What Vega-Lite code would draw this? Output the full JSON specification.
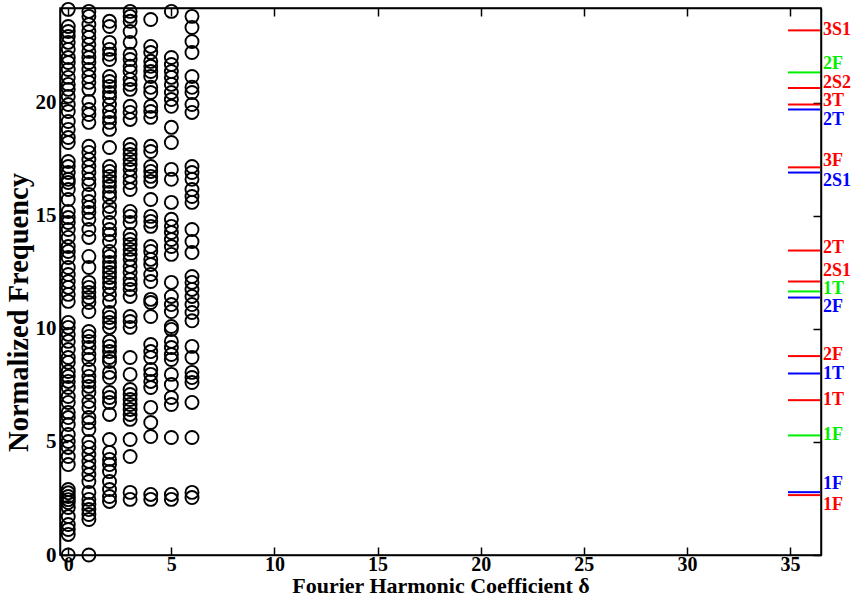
{
  "$schema": "https://vega.github.io/schema/vega-lite/v6.json",
  "autosize": "none",
  "width": 761,
  "height": 547,
  "padding": {"left": 60, "top": 8, "right": 37, "bottom": 47},
  "background": "white",
  "config": {
    "view": {"stroke": "black", "strokeWidth": 1.5},
    "axis": {
      "grid": false,
      "domainColor": "black",
      "domainWidth": 1.5,
      "tickColor": "black",
      "tickWidth": 1.5,
      "labelColor": "black",
      "titleColor": "black",
      "labelFont": "Liberation Serif",
      "titleFont": "Liberation Serif",
      "labelFontWeight": "bold",
      "titleFontWeight": "bold"
    }
  },
  "datasets": {
    "circles": [
      {"d":0,"f":24.14},{"d":0,"f":23.38},{"d":0,"f":23.16},{"d":0,"f":22.94},{"d":0,"f":22.68},{"d":0,"f":22.37},{"d":0,"f":22.01},{"d":0,"f":21.79},{"d":0,"f":21.48},{"d":0,"f":21.13},{"d":0,"f":20.82},{"d":0,"f":20.6},{"d":0,"f":20.29},{"d":0,"f":19.93},{"d":0,"f":19.62},{"d":0,"f":19.18},{"d":0,"f":18.83},{"d":0,"f":18.47},{"d":0,"f":18.25},{"d":0,"f":17.41},{"d":0,"f":17.19},{"d":0,"f":16.92},{"d":0,"f":16.62},{"d":0,"f":16.48},{"d":0,"f":16.17},{"d":0,"f":15.73},{"d":0,"f":15.2},{"d":0,"f":14.93},{"d":0,"f":14.71},{"d":0,"f":14.4},{"d":0,"f":14.05},{"d":0,"f":13.65},{"d":0,"f":13.43},{"d":0,"f":13.16},{"d":0,"f":12.72},{"d":0,"f":12.41},{"d":0,"f":12.1},{"d":0,"f":11.84},{"d":0,"f":11.53},{"d":0,"f":11.22},{"d":0,"f":10.29},{"d":0,"f":10.07},{"d":0,"f":9.76},{"d":0,"f":9.45},{"d":0,"f":9.09},{"d":0,"f":8.74},{"d":0,"f":8.52},{"d":0,"f":8.12},{"d":0,"f":7.9},{"d":0,"f":7.68},{"d":0,"f":7.41},{"d":0,"f":7.01},{"d":0,"f":6.75},{"d":0,"f":6.31},{"d":0,"f":6.08},{"d":0,"f":5.77},{"d":0,"f":5.33},{"d":0,"f":5.02},{"d":0,"f":4.76},{"d":0,"f":4.36},{"d":0,"f":4.0},{"d":0,"f":2.9},{"d":0,"f":2.75},{"d":0,"f":2.59},{"d":0,"f":2.45},{"d":0,"f":2.32},{"d":0,"f":2.1},{"d":0,"f":1.7},{"d":0,"f":1.35},{"d":0,"f":1.13},{"d":0,"f":0.91},{"d":0,"f":0.0},
      {"d":1,"f":24.05},{"d":1,"f":23.83},{"d":1,"f":23.47},{"d":1,"f":23.16},{"d":1,"f":22.9},{"d":1,"f":22.59},{"d":1,"f":22.28},{"d":1,"f":22.01},{"d":1,"f":21.79},{"d":1,"f":21.48},{"d":1,"f":21.17},{"d":1,"f":20.91},{"d":1,"f":20.6},{"d":1,"f":20.07},{"d":1,"f":19.71},{"d":1,"f":19.49},{"d":1,"f":19.14},{"d":1,"f":18.08},{"d":1,"f":17.81},{"d":1,"f":17.5},{"d":1,"f":17.19},{"d":1,"f":16.92},{"d":1,"f":16.62},{"d":1,"f":16.39},{"d":1,"f":15.95},{"d":1,"f":15.64},{"d":1,"f":15.38},{"d":1,"f":15.15},{"d":1,"f":14.85},{"d":1,"f":14.4},{"d":1,"f":14.05},{"d":1,"f":13.21},{"d":1,"f":12.72},{"d":1,"f":12.06},{"d":1,"f":11.84},{"d":1,"f":11.62},{"d":1,"f":11.39},{"d":1,"f":11.17},{"d":1,"f":10.77},{"d":1,"f":9.89},{"d":1,"f":9.67},{"d":1,"f":9.45},{"d":1,"f":9.18},{"d":1,"f":8.87},{"d":1,"f":8.65},{"d":1,"f":8.21},{"d":1,"f":7.9},{"d":1,"f":7.68},{"d":1,"f":7.46},{"d":1,"f":7.19},{"d":1,"f":6.79},{"d":1,"f":6.53},{"d":1,"f":6.08},{"d":1,"f":5.86},{"d":1,"f":5.55},{"d":1,"f":5.02},{"d":1,"f":4.76},{"d":1,"f":4.45},{"d":1,"f":4.14},{"d":1,"f":3.87},{"d":1,"f":3.56},{"d":1,"f":3.25},{"d":1,"f":2.77},{"d":1,"f":2.46},{"d":1,"f":2.23},{"d":1,"f":2.01},{"d":1,"f":1.79},{"d":1,"f":1.57},{"d":1,"f":0.0},
      {"d":2,"f":23.61},{"d":2,"f":23.38},{"d":2,"f":22.68},{"d":2,"f":22.37},{"d":2,"f":22.15},{"d":2,"f":21.92},{"d":2,"f":21.17},{"d":2,"f":20.95},{"d":2,"f":20.73},{"d":2,"f":20.46},{"d":2,"f":20.24},{"d":2,"f":19.93},{"d":2,"f":19.62},{"d":2,"f":19.36},{"d":2,"f":19.14},{"d":2,"f":18.83},{"d":2,"f":18.03},{"d":2,"f":17.19},{"d":2,"f":16.97},{"d":2,"f":16.75},{"d":2,"f":16.53},{"d":2,"f":16.31},{"d":2,"f":16.04},{"d":2,"f":15.82},{"d":2,"f":15.42},{"d":2,"f":15.15},{"d":2,"f":14.71},{"d":2,"f":14.4},{"d":2,"f":14.18},{"d":2,"f":13.87},{"d":2,"f":13.43},{"d":2,"f":13.21},{"d":2,"f":12.94},{"d":2,"f":12.72},{"d":2,"f":12.5},{"d":2,"f":12.28},{"d":2,"f":12.06},{"d":2,"f":11.84},{"d":2,"f":11.53},{"d":2,"f":11.22},{"d":2,"f":10.73},{"d":2,"f":10.51},{"d":2,"f":10.29},{"d":2,"f":10.07},{"d":2,"f":9.45},{"d":2,"f":9.23},{"d":2,"f":9.0},{"d":2,"f":8.74},{"d":2,"f":8.56},{"d":2,"f":8.08},{"d":2,"f":7.85},{"d":2,"f":7.19},{"d":2,"f":6.97},{"d":2,"f":6.75},{"d":2,"f":6.22},{"d":2,"f":5.11},{"d":2,"f":4.54},{"d":2,"f":4.23},{"d":2,"f":4.0},{"d":2,"f":3.69},{"d":2,"f":3.25},{"d":2,"f":2.9},{"d":2,"f":2.59},{"d":2,"f":2.37},
      {"d":3,"f":24.05},{"d":3,"f":23.83},{"d":3,"f":23.61},{"d":3,"f":23.16},{"d":3,"f":22.68},{"d":3,"f":22.15},{"d":3,"f":21.92},{"d":3,"f":21.62},{"d":3,"f":21.39},{"d":3,"f":21.04},{"d":3,"f":20.82},{"d":3,"f":20.6},{"d":3,"f":19.85},{"d":3,"f":19.58},{"d":3,"f":19.27},{"d":3,"f":18.16},{"d":3,"f":17.94},{"d":3,"f":17.72},{"d":3,"f":17.5},{"d":3,"f":17.28},{"d":3,"f":17.06},{"d":3,"f":16.75},{"d":3,"f":16.48},{"d":3,"f":16.17},{"d":3,"f":15.2},{"d":3,"f":14.98},{"d":3,"f":14.71},{"d":3,"f":14.18},{"d":3,"f":13.96},{"d":3,"f":13.74},{"d":3,"f":13.52},{"d":3,"f":13.3},{"d":3,"f":13.08},{"d":3,"f":12.77},{"d":3,"f":12.5},{"d":3,"f":12.19},{"d":3,"f":11.97},{"d":3,"f":11.75},{"d":3,"f":11.44},{"d":3,"f":10.55},{"d":3,"f":10.33},{"d":3,"f":10.07},{"d":3,"f":8.74},{"d":3,"f":7.99},{"d":3,"f":7.32},{"d":3,"f":7.1},{"d":3,"f":6.88},{"d":3,"f":6.66},{"d":3,"f":6.44},{"d":3,"f":6.22},{"d":3,"f":6.0},{"d":3,"f":5.11},{"d":3,"f":4.36},{"d":3,"f":2.77},{"d":3,"f":2.46},
      {"d":4,"f":23.69},{"d":4,"f":22.5},{"d":4,"f":22.23},{"d":4,"f":21.84},{"d":4,"f":21.62},{"d":4,"f":21.39},{"d":4,"f":21.17},{"d":4,"f":20.69},{"d":4,"f":20.46},{"d":4,"f":19.85},{"d":4,"f":19.62},{"d":4,"f":19.36},{"d":4,"f":18.08},{"d":4,"f":17.85},{"d":4,"f":17.19},{"d":4,"f":16.97},{"d":4,"f":16.75},{"d":4,"f":16.53},{"d":4,"f":15.73},{"d":4,"f":14.98},{"d":4,"f":14.76},{"d":4,"f":14.54},{"d":4,"f":13.65},{"d":4,"f":13.43},{"d":4,"f":13.08},{"d":4,"f":12.85},{"d":4,"f":12.41},{"d":4,"f":12.1},{"d":4,"f":11.31},{"d":4,"f":11.17},{"d":4,"f":10.55},{"d":4,"f":9.31},{"d":4,"f":9.0},{"d":4,"f":8.74},{"d":4,"f":8.21},{"d":4,"f":7.99},{"d":4,"f":7.68},{"d":4,"f":7.41},{"d":4,"f":6.53},{"d":4,"f":5.86},{"d":4,"f":5.24},{"d":4,"f":2.68},{"d":4,"f":2.46},
      {"d":5,"f":24.05},{"d":5,"f":22.01},{"d":5,"f":21.7},{"d":5,"f":21.39},{"d":5,"f":21.13},{"d":5,"f":20.82},{"d":5,"f":20.46},{"d":5,"f":20.15},{"d":5,"f":19.85},{"d":5,"f":18.92},{"d":5,"f":18.25},{"d":5,"f":17.06},{"d":5,"f":16.62},{"d":5,"f":15.6},{"d":5,"f":14.85},{"d":5,"f":14.54},{"d":5,"f":14.27},{"d":5,"f":13.96},{"d":5,"f":13.65},{"d":5,"f":13.3},{"d":5,"f":12.06},{"d":5,"f":11.44},{"d":5,"f":11.08},{"d":5,"f":10.77},{"d":5,"f":10.11},{"d":5,"f":9.98},{"d":5,"f":9.45},{"d":5,"f":9.18},{"d":5,"f":8.87},{"d":5,"f":8.65},{"d":5,"f":7.99},{"d":5,"f":7.54},{"d":5,"f":6.97},{"d":5,"f":6.66},{"d":5,"f":5.2},{"d":5,"f":2.68},{"d":5,"f":2.46},
      {"d":6,"f":23.83},{"d":6,"f":23.34},{"d":6,"f":22.72},{"d":6,"f":22.23},{"d":6,"f":21.17},{"d":6,"f":20.69},{"d":6,"f":20.46},{"d":6,"f":19.93},{"d":6,"f":19.58},{"d":6,"f":17.19},{"d":6,"f":16.92},{"d":6,"f":16.62},{"d":6,"f":16.17},{"d":6,"f":15.86},{"d":6,"f":15.6},{"d":6,"f":14.4},{"d":6,"f":13.87},{"d":6,"f":13.38},{"d":6,"f":12.32},{"d":6,"f":12.06},{"d":6,"f":11.75},{"d":6,"f":11.44},{"d":6,"f":11.08},{"d":6,"f":10.73},{"d":6,"f":10.36},{"d":6,"f":9.23},{"d":6,"f":8.74},{"d":6,"f":8.08},{"d":6,"f":7.85},{"d":6,"f":7.63},{"d":6,"f":6.75},{"d":6,"f":5.2},{"d":6,"f":2.77},{"d":6,"f":2.54}
    ],
    "modes": [
      {"mode":"3S1","series":"A","f":23.21,"lf":23.21},
      {"mode":"2F","series":"B","f":21.35,"lf":21.74},
      {"mode":"2S2","series":"A","f":20.66,"lf":20.9},
      {"mode":"3T","series":"A","f":19.93,"lf":20.08},
      {"mode":"2T","series":"C","f":19.71,"lf":19.26},
      {"mode":"3F","series":"A","f":17.15,"lf":17.41},
      {"mode":"2S1","series":"C","f":16.92,"lf":16.53},
      {"mode":"2T","series":"A","f":13.47,"lf":13.56},
      {"mode":"2S1","series":"A","f":12.1,"lf":12.56},
      {"mode":"1T","series":"B","f":11.66,"lf":11.76},
      {"mode":"2F","series":"C","f":11.39,"lf":10.96},
      {"mode":"2F","series":"A","f":8.8,"lf":8.83},
      {"mode":"1T","series":"C","f":8.03,"lf":7.99},
      {"mode":"1T","series":"A","f":6.85,"lf":6.84},
      {"mode":"1F","series":"B","f":5.29,"lf":5.29},
      {"mode":"1F","series":"C","f":2.78,"lf":3.16},
      {"mode":"1F","series":"A","f":2.65,"lf":2.23}
    ]
  },
  "resolve": {
    "scale": {"x": "independent", "y": "independent", "color": "shared"},
    "axis": {"x": "independent", "y": "independent"}
  },
  "layer": [
    {
      "data": {"name": "circles"},
      "mark": {"type": "point", "shape": "circle", "filled": false, "stroke": "black", "strokeWidth": 1.9, "size": 170, "opacity": 1, "clip": false},
      "encoding": {
        "x": {"field": "d", "type": "quantitative",
          "scale": {"domain": [-0.4, 36.5], "nice": false, "zero": false},
          "axis": {"orient": "bottom", "values": [0,5,10,15,20,25,30,35], "tickSize": -8, "labelFontSize": 20, "labelPadding": 7, "title": "Fourier Harmonic Coefficient δ", "titleFontSize": 22, "titlePadding": 1}},
        "y": {"field": "f", "type": "quantitative",
          "scale": {"domain": [0, 24.2], "nice": false, "zero": false},
          "axis": {"orient": "left", "values": [0,5,10,15,20], "tickSize": -8, "labelFontSize": 21, "labelPadding": 12, "title": "Normalized Frequency", "titleFontSize": 28.5, "titlePadding": 2, "titleY": 304}}
      }
    },
    {
      "data": {"name": "modes"},
      "mark": {"type": "rule", "strokeWidth": 2, "clip": false},
      "encoding": {
        "x": {"datum": 34.9, "type": "quantitative",
          "scale": {"domain": [-0.4, 36.5], "nice": false, "zero": false},
          "axis": {"orient": "top", "values": [0,5,10,15,20,25,30,35], "tickSize": -8, "labels": false, "title": null}},
        "x2": {"datum": 36.45},
        "y": {"field": "f", "type": "quantitative",
          "scale": {"domain": [0, 24.2], "nice": false, "zero": false},
          "axis": {"orient": "right", "values": [0,5,10,15,20], "tickSize": -8, "labels": false, "title": null}},
        "color": {"field": "series", "type": "nominal", "scale": {"domain": ["A","B","C"], "range": ["#ff0000","#00ee00","#0000ff"]}, "legend": null}
      }
    },
    {
      "data": {"name": "modes"},
      "mark": {"type": "text", "align": "left", "baseline": "middle", "dx": 2, "font": "Liberation Serif", "fontWeight": "bold", "fontSize": 18, "clip": false},
      "encoding": {
        "x": {"datum": 36.5, "type": "quantitative", "scale": {"domain": [-0.4, 36.5], "nice": false, "zero": false}, "axis": null},
        "y": {"field": "lf", "type": "quantitative", "scale": {"domain": [0, 24.2], "nice": false, "zero": false}, "axis": null},
        "text": {"field": "mode"},
        "color": {"field": "series", "type": "nominal", "scale": {"domain": ["A","B","C"], "range": ["#ff0000","#00ee00","#0000ff"]}, "legend": null}
      }
    }
  ]
}
